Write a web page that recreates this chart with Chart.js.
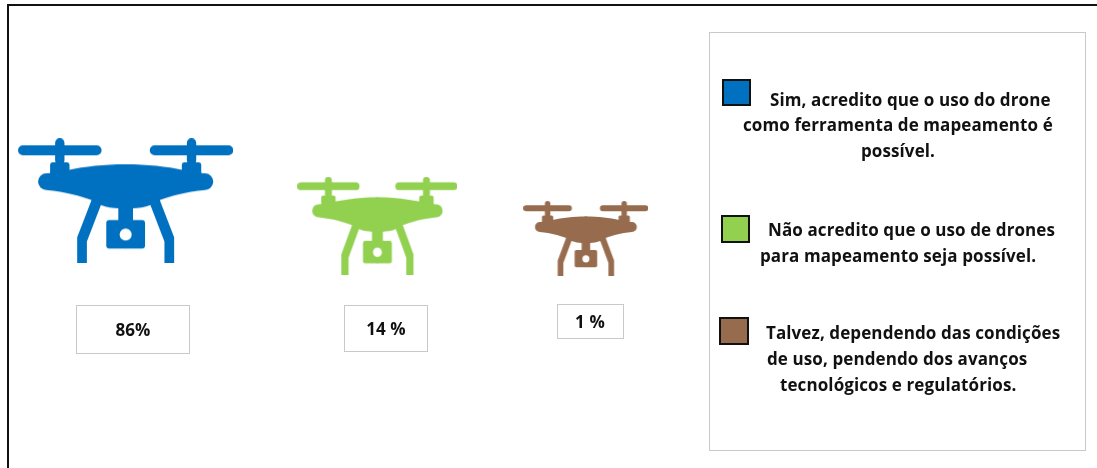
<!DOCTYPE html>
<html lang="pt">
<head>
<meta charset="utf-8">
<title>Uso de drones para mapeamento</title>
<style>
  html, body { margin: 0; padding: 0; background: #fff; }
  canvas { display: block; }
</style>
<script src="https://cdn.jsdelivr.net/npm/chart.js@4"></script>
</head>
<body>
<canvas id="drones" width="1097" height="468"></canvas>
<script>
const categorias = ["Sim", "Não", "Talvez"];
const valores = [86, 14, 1];
const rotulos = ["86%", "14 %", "1 %"];
const legendaSim = ["Sim, acredito que o uso do drone", "como ferramenta de mapeamento é", "possível."];
const legendaNao = ["Não acredito que o uso de drones", "para mapeamento seja possível."];
const legendaTalvez = ["Talvez, dependendo das condições", "de uso, pendendo dos avanços", "tecnológicos e regulatórios."];

const cores = ["#0070c0", "#92d050", "#976c4e"];
const fonte = "bold 17px 'Open Sans'";

// onde cada drone fica na folha e o tamanho do icone
const centroX = [125.5, 377.3, 585.8];
const centroY = [200.8, 225.8, 238.5];
const larguraIcone = [215, 160, 125];
const alturaIcone = [125, 98, 75];

const caixasValor = [
  { x: 76.5, y: 305.5, w: 113, h: 48, texto: 133, base: 336 },
  { x: 344.5, y: 305.5, w: 83, h: 46, texto: 386, base: 335 },
  { x: 557.5, y: 304.5, w: 66, h: 34, texto: 590, base: 328 },
];
const blocosLegenda = [
  { linhas: legendaSim, caixa: [723, 80, 27, 25], x: [770, 743, 861], base: [106, 131, 157] },
  { linhas: legendaNao, caixa: [722, 216, 27, 26], x: [768, 760], base: [236, 262] },
  { linhas: legendaTalvez, caixa: [720, 318, 28, 26], x: [766, 767, 780], base: [339, 365, 391] },
];

// desenha o drone num canvas, metade e espelho (medidas do icone: 643 x 375)
function metadeDrone(c) {
  c.beginPath();
  c.roundRect(55, 76, 250, 30, 15);
  c.roundRect(166, 55, 28, 80, 14);
  c.roundRect(151, 127, 58, 40, 8);
  c.fill();
  c.beginPath();
  c.moveTo(385, 133);
  c.lineTo(377, 133);
  c.bezierCurveTo(310, 133, 255, 140, 205, 150);
  c.lineTo(145, 160);
  c.arc(140, 185, 25, -Math.PI / 2, Math.PI / 2, true);
  c.bezierCurveTo(200, 216, 240, 228, 275, 240);
  c.lineTo(232, 352);
  c.lineTo(232, 430);
  c.lineTo(261, 430);
  c.lineTo(261, 365);
  c.lineTo(303, 255);
  c.bezierCurveTo(320, 262, 340, 264, 355, 265);
  c.lineTo(355, 305);
  c.lineTo(385, 305);
  c.closePath();
  c.fill();
  c.beginPath();
  c.roundRect(319, 300, 66, 86, 9);
  c.fill();
}

function criaIcone(cor, w, h) {
  const tela = document.createElement("canvas");
  tela.width = w;
  tela.height = h;
  const c = tela.getContext("2d");
  c.fillStyle = cor;
  c.scale(w / 643, h / 375);
  c.translate(-55, -55);
  metadeDrone(c);
  c.save();
  c.translate(754, 0);
  c.scale(-1, 1);
  metadeDrone(c);
  c.restore();
  c.globalCompositeOperation = "destination-out";
  c.beginPath();
  c.arc(377, 344, 18, 0, Math.PI * 2);
  c.fill();
  return tela;
}

const moldura = {
  id: "moldura",
  beforeDraw(chart) {
    const c = chart.ctx;
    c.save();
    c.fillStyle = "#fff";
    c.fillRect(0, 0, 1097, 468);
    c.fillStyle = "#111";
    c.fillRect(7, 4, 1090, 2);
    c.fillRect(7, 4, 2, 464);
    c.restore();
  },
  afterDraw(chart) {
    const c = chart.ctx;
    c.save();
    c.textBaseline = "alphabetic";
    c.fillStyle = "#111";
    c.font = fonte;
    c.letterSpacing = "0.1px";
    c.lineWidth = 1;
    c.strokeStyle = "#c9c9c9";
    caixasValor.forEach((b, i) => {
      c.strokeRect(b.x, b.y, b.w, b.h);
      c.textAlign = "center";
      c.fillText(rotulos[i], b.texto, b.base);
    });
    c.strokeRect(709.5, 32.5, 376, 418);
    c.textAlign = "left";
    blocosLegenda.forEach((b, i) => {
      c.fillStyle = cores[i];
      c.strokeStyle = "#111";
      c.lineWidth = 2;
      c.fillRect(...b.caixa);
      c.strokeRect(...b.caixa);
      c.fillStyle = "#111";
      b.linhas.forEach((t, j) => c.fillText(t, b.x[j], b.base[j]));
    });
    c.restore();
  },
};

new Chart(document.getElementById("drones"), {
  type: "scatter",
  data: {
    datasets: categorias.map((nome, i) => ({
      label: nome,
      data: [{ x: centroX[i], y: centroY[i], valor: valores[i] }],
      pointStyle: criaIcone(cores[i], larguraIcone[i], alturaIcone[i]),
    })),
  },
  options: {
    responsive: false,
    animation: false,
    layout: { padding: 0, autoPadding: false },
    plugins: { legend: { display: false }, tooltip: { enabled: false } },
    scales: {
      x: { display: false, min: 0, max: 1097 },
      y: { display: false, min: 0, max: 468, reverse: true },
    },
  },
  plugins: [moldura],
});
</script>
</body>
</html>
